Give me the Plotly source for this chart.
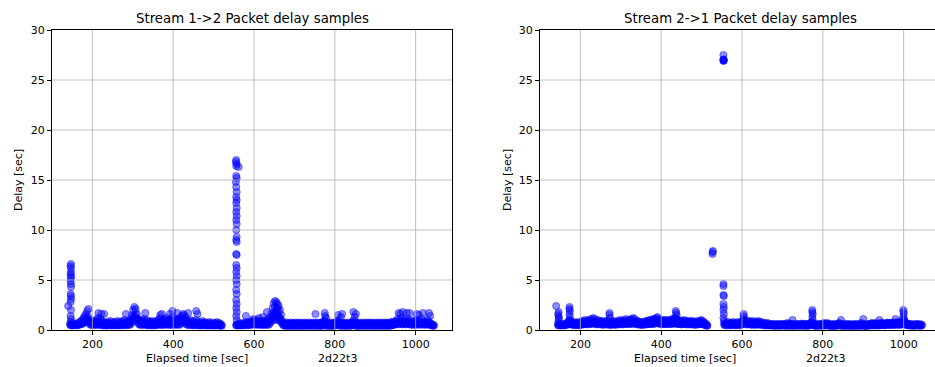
import plotly.graph_objects as go

# ---------------- data ----------------
sample_times = [
    145, 148, 151, 154, 157, 160, 163, 166, 169, 172,
    175, 178, 181, 184, 187, 190, 193, 196, 199, 202,
    205, 208, 211, 214, 217, 220, 223, 226, 229, 232,
    235, 238, 241, 244, 247, 250, 253, 256, 259, 262,
    265, 268, 271, 274, 277, 280, 283, 286, 289, 292,
    295, 298, 301, 304, 307, 310, 313, 316, 319, 322,
    325, 328, 331, 334, 337, 340, 343, 346, 349, 352,
    355, 358, 361, 364, 367, 370, 373, 376, 379, 382,
    385, 388, 391, 394, 397, 400, 403, 406, 409, 412,
    415, 418, 421, 424, 427, 430, 433, 436, 439, 442,
    445, 448, 451, 454, 457, 460, 463, 466, 469, 472,
    475, 478, 481, 484, 487, 490, 493, 496, 499, 502,
    505, 508, 511, 514, 517, 520,
    556, 559, 562, 565, 568, 571, 574, 577, 580, 583,
    586, 589, 592, 595, 598, 601, 604, 607, 610, 613,
    616, 619, 622, 625, 628, 631, 634, 637, 640, 643,
    646, 649, 652, 655, 658, 661, 664, 667, 670, 673,
    676, 679, 682, 685, 688, 691, 694, 697, 700, 703,
    706, 709, 712, 715, 718, 721, 724, 727, 730, 733,
    736, 739, 742, 745, 748, 751, 754, 757, 760, 763,
    766, 769, 772, 775, 778, 781, 784, 787, 790, 793,
    796, 799, 802, 805, 808, 811, 814, 817, 820, 823,
    826, 829, 832, 835, 838, 841, 844, 847, 850, 853,
    856, 859, 862, 865, 868, 871, 874, 877, 880, 883,
    886, 889, 892, 895, 898, 901, 904, 907, 910, 913,
    916, 919, 922, 925, 928, 931, 934, 937, 940, 943,
    946, 949, 952, 955, 958, 961, 964, 967, 970, 973,
    976, 979, 982, 985, 988, 991, 994, 997, 1000, 1003,
    1006, 1009, 1012, 1015, 1018, 1021, 1024, 1027, 1030, 1033,
    1036, 1039, 1042, 1045,
]

# upper delay sample per time slot, stream 1->2
delay_12 = [
    0.6, 0.5, 0.7, 0.5, 0.6, 0.55, 0.7, 0.6, 0.8, 0.9,
    1.0, 1.2, 1.4, 1.6, 1.9, 1.3, 0.9, 0.8, 0.7, 0.9,
    0.8, 1.0, 0.9, 1.2, 0.8, 1.1, 0.9, 0.7, 0.8, 0.7,
    0.6, 0.8, 0.7, 0.9, 0.6, 0.8, 0.7, 0.8, 0.6, 0.9,
    0.7, 0.8, 0.6, 0.9, 0.8, 1.0, 0.7, 0.8, 0.9, 0.8,
    1.0, 1.5, 2.0, 2.3, 2.1, 1.6, 1.1, 0.9, 0.8, 1.0,
    0.9, 1.1, 0.8, 1.0, 0.7, 0.9, 0.8, 0.7, 0.9, 0.8,
    0.7, 0.9, 0.8, 1.0, 1.2, 0.9, 0.8, 1.0, 1.1, 0.9,
    1.2, 1.0, 0.9, 1.1, 0.8, 1.3, 1.0, 0.9, 1.1, 1.0,
    0.9, 1.2, 1.4, 1.6, 1.5, 1.3, 1.0, 0.9, 0.8, 1.0,
    0.8, 0.9, 0.7, 0.8, 1.0, 0.7, 0.8, 0.6, 0.7, 0.9,
    0.7, 0.8, 0.6, 0.7, 0.6, 0.8, 0.7, 0.6, 0.7, 0.6,
    0.7, 0.8, 0.6, 0.7, 0.6, 0.5,
    0.5, 0.6, 0.5, 0.7, 0.6, 0.5, 0.7, 0.6, 0.8, 0.7,
    0.6, 0.8, 0.7, 0.9, 0.8, 1.0, 0.9, 0.8, 1.0, 0.8,
    0.7, 0.9, 0.8, 0.9, 0.7, 1.0, 0.8, 0.9, 1.2, 1.6,
    2.2, 2.7, 2.9, 2.8, 2.6, 2.4, 2.0, 1.5, 0.9, 0.6,
    0.65, 0.75, 0.65, 0.7, 0.65, 0.75, 0.65, 0.7, 0.65, 0.75,
    0.65, 0.7, 0.75, 0.65, 0.7, 0.65, 0.75, 0.65, 0.7, 0.65,
    0.75, 0.65, 0.7, 0.65, 0.75, 0.65, 0.7, 0.75, 0.65, 0.7,
    0.75, 0.65, 0.85, 0.95, 0.75, 0.65, 0.7, 0.65, 0.75, 0.65,
    0.7, 0.65, 0.75, 0.85, 0.95, 0.75, 0.65, 0.7, 0.75, 0.65,
    0.7, 0.65, 0.75, 0.65, 0.7, 0.75, 0.85, 0.95, 0.75, 0.65,
    0.7, 0.65, 0.75, 0.65, 0.7, 0.65, 0.75, 0.65, 0.7, 0.75,
    0.65, 0.7, 0.75, 0.65, 0.7, 0.65, 0.75, 0.7, 0.65, 0.75,
    0.65, 0.7, 0.75, 0.65, 0.7, 0.75, 0.65, 0.7, 0.75, 0.85,
    0.6, 0.8, 0.9, 1.1, 0.8, 0.9, 1.2, 0.8, 0.9, 1.0,
    0.8, 1.1, 0.9, 0.8, 1.0, 0.7, 0.8, 0.9, 0.7, 1.0,
    0.8, 0.9, 0.7, 1.1, 0.8, 0.9, 0.7, 0.8, 1.0, 0.8,
    0.7, 0.6, 0.5, 0.5,
]

# lower delay sample per time slot, stream 1->2
floor_12 = [
    0.5, 0.45, 0.5, 0.45, 0.5, 0.5, 0.45, 0.5, 0.55, 0.6,
    0.6, 0.7, 0.8, 0.9, 1.0, 0.8, 0.6, 0.5, 0.5, 0.55,
    0.5, 0.55, 0.5, 0.6, 0.5, 0.55, 0.5, 0.45, 0.5, 0.45,
    0.45, 0.5, 0.45, 0.5, 0.45, 0.5, 0.45, 0.5, 0.45, 0.5,
    0.45, 0.5, 0.45, 0.5, 0.5, 0.55, 0.45, 0.5, 0.55, 0.5,
    0.6, 0.8, 1.1, 1.3, 1.2, 0.9, 0.7, 0.55, 0.5, 0.55,
    0.5, 0.6, 0.5, 0.55, 0.45, 0.5, 0.5, 0.45, 0.5, 0.5,
    0.45, 0.5, 0.5, 0.55, 0.6, 0.5, 0.5, 0.55, 0.6, 0.5,
    0.6, 0.55, 0.5, 0.6, 0.5, 0.65, 0.55, 0.5, 0.6, 0.55,
    0.5, 0.6, 0.8, 0.9, 0.85, 0.7, 0.55, 0.5, 0.5, 0.55,
    0.5, 0.5, 0.45, 0.5, 0.55, 0.45, 0.5, 0.45, 0.45, 0.5,
    0.45, 0.5, 0.45, 0.45, 0.45, 0.5, 0.45, 0.45, 0.45, 0.45,
    0.45, 0.5, 0.45, 0.45, 0.45, 0.4,
    0.45, 0.5, 0.45, 0.5, 0.45, 0.45, 0.5, 0.45, 0.55, 0.5,
    0.45, 0.55, 0.5, 0.6, 0.55, 0.6, 0.55, 0.5, 0.6, 0.55,
    0.5, 0.55, 0.5, 0.55, 0.5, 0.6, 0.5, 0.55, 0.7, 0.9,
    1.2, 1.5, 1.7, 1.6, 1.4, 1.3, 1.1, 0.8, 0.6, 0.45,
    0.45, 0.4, 0.45, 0.45, 0.4, 0.45, 0.4, 0.45, 0.45, 0.4,
    0.4, 0.45, 0.45, 0.4, 0.45, 0.4, 0.45, 0.45, 0.4, 0.45,
    0.45, 0.4, 0.45, 0.45, 0.4, 0.45, 0.45, 0.4, 0.45, 0.4,
    0.45, 0.4, 0.5, 0.55, 0.45, 0.4, 0.45, 0.45, 0.4, 0.45,
    0.4, 0.45, 0.45, 0.5, 0.55, 0.45, 0.4, 0.45, 0.45, 0.4,
    0.45, 0.4, 0.45, 0.45, 0.4, 0.45, 0.5, 0.55, 0.45, 0.4,
    0.45, 0.4, 0.45, 0.45, 0.4, 0.45, 0.45, 0.4, 0.45, 0.45,
    0.4, 0.45, 0.45, 0.4, 0.45, 0.4, 0.45, 0.45, 0.4, 0.45,
    0.45, 0.4, 0.45, 0.45, 0.4, 0.45, 0.4, 0.45, 0.45, 0.5,
    0.5, 0.55, 0.6, 0.65, 0.55, 0.6, 0.7, 0.55, 0.6, 0.6,
    0.55, 0.65, 0.6, 0.55, 0.6, 0.5, 0.55, 0.6, 0.5, 0.6,
    0.55, 0.6, 0.5, 0.65, 0.55, 0.6, 0.5, 0.55, 0.6, 0.55,
    0.5, 0.45, 0.45, 0.4,
]

# upper delay sample per time slot, stream 2->1
delay_21 = [
    0.5, 0.6, 0.5, 0.55, 0.6, 0.5, 0.6, 0.7, 0.8, 0.9,
    0.9, 0.8, 0.7, 0.8, 0.6, 0.7, 0.8, 0.7, 0.6, 0.8,
    0.9, 0.8, 1.0, 0.9, 0.8, 1.0, 0.9, 1.1, 0.9, 1.2,
    1.1, 0.9, 0.8, 1.0, 0.9, 0.8, 0.9, 0.7, 0.8, 0.9,
    0.8, 0.9, 0.7, 0.8, 0.7, 0.8, 0.9, 0.7, 0.8, 0.9,
    0.8, 1.0, 0.9, 0.8, 1.0, 0.9, 1.1, 0.9, 1.0, 0.9,
    1.1, 1.0, 1.2, 1.1, 0.9, 0.8, 0.9, 0.8, 0.7, 0.8,
    0.7, 0.8, 0.9, 0.8, 0.9, 1.0, 0.9, 1.0, 1.1, 1.0,
    1.1, 1.2, 1.3, 1.1, 1.0, 0.9, 1.0, 0.9, 1.0, 0.9,
    1.0, 0.9, 1.0, 0.9, 1.1, 1.0, 1.2, 1.1, 1.0, 0.9,
    1.0, 0.9, 0.8, 0.9, 1.0, 0.9, 0.8, 0.9, 0.8, 0.9,
    0.8, 0.9, 0.8, 0.7, 0.8, 0.9, 0.8, 0.9, 1.0, 0.9,
    0.8, 0.7, 0.6, 0.5, None, None,
    0.6, 0.7, 0.6, 0.8, 0.7, 0.6, 0.7, 0.8, 0.7, 0.6,
    0.7, 0.8, 0.7, 0.6, 0.8, 0.9, 1.0, 0.9, 0.8, 0.9,
    0.8, 0.9, 0.8, 0.7, 0.9, 0.8, 0.7, 0.8, 0.9, 0.8,
    0.7, 0.8, 0.7, 0.6, 0.7, 0.6, 0.7, 0.6, 0.55, 0.6,
    0.55, 0.6, 0.5, 0.6, 0.55, 0.6, 0.5, 0.6, 0.55, 0.6,
    0.6, 0.55, 0.7, 0.6, 0.65, 0.6, 0.55, 0.6, 0.5, 0.6,
    0.55, 0.6, 0.5, 0.6, 0.65, 0.6, 0.55, 0.6, 0.6, 0.55,
    0.6, 0.7, 0.8, 0.7, 0.6, 0.55, 0.6, 0.5, 0.6, 0.55,
    0.6, 0.55, 0.7, 0.6, 0.65, 0.7, 0.6, 0.55, 0.6, 0.5,
    0.55, 0.6, 0.5, 0.6, 0.65, 0.7, 0.6, 0.55, 0.6, 0.5,
    0.6, 0.55, 0.6, 0.5, 0.6, 0.55, 0.5, 0.6, 0.55, 0.6,
    0.5, 0.6, 0.55, 0.7, 0.6, 0.55, 0.6, 0.5, 0.55, 0.6,
    0.6, 0.65, 0.7, 0.6, 0.65, 0.7, 0.6, 0.65, 0.6, 0.7,
    0.65, 0.7, 0.6, 0.65, 0.7, 0.75, 0.7, 0.65, 0.7, 0.75,
    0.7, 0.75, 0.7, 0.8, 0.75, 0.7, 0.8, 0.9, 1.0, 0.8,
    0.7, 0.65, 0.6, 0.55, 0.6, 0.55, 0.5, 0.6, 0.55, 0.6,
    0.55, 0.6, 0.5, 0.55,
]

# lower delay sample per time slot, stream 2->1
floor_21 = [
    0.45, 0.5, 0.45, 0.45, 0.5, 0.45, 0.5, 0.5, 0.55, 0.6,
    0.6, 0.55, 0.5, 0.55, 0.45, 0.5, 0.55, 0.5, 0.45, 0.55,
    0.6, 0.55, 0.6, 0.6, 0.55, 0.6, 0.6, 0.65, 0.6, 0.7,
    0.65, 0.6, 0.55, 0.6, 0.6, 0.55, 0.6, 0.5, 0.55, 0.6,
    0.55, 0.6, 0.5, 0.55, 0.5, 0.55, 0.6, 0.5, 0.55, 0.6,
    0.55, 0.6, 0.6, 0.55, 0.6, 0.6, 0.65, 0.6, 0.6, 0.6,
    0.65, 0.6, 0.7, 0.65, 0.6, 0.55, 0.6, 0.55, 0.5, 0.55,
    0.5, 0.55, 0.6, 0.55, 0.6, 0.6, 0.6, 0.6, 0.65, 0.6,
    0.65, 0.7, 0.75, 0.65, 0.6, 0.6, 0.6, 0.6, 0.6, 0.6,
    0.6, 0.6, 0.6, 0.6, 0.65, 0.6, 0.7, 0.65, 0.6, 0.6,
    0.6, 0.6, 0.55, 0.6, 0.6, 0.6, 0.55, 0.6, 0.55, 0.6,
    0.55, 0.6, 0.55, 0.5, 0.55, 0.6, 0.55, 0.6, 0.6, 0.6,
    0.55, 0.5, 0.45, 0.4, None, None,
    0.5, 0.5, 0.45, 0.55, 0.5, 0.45, 0.5, 0.55, 0.5, 0.45,
    0.5, 0.55, 0.5, 0.45, 0.55, 0.6, 0.65, 0.6, 0.55, 0.6,
    0.55, 0.6, 0.55, 0.5, 0.6, 0.55, 0.5, 0.55, 0.6, 0.55,
    0.5, 0.55, 0.5, 0.45, 0.5, 0.45, 0.5, 0.45, 0.45, 0.45,
    0.45, 0.45, 0.4, 0.45, 0.45, 0.45, 0.4, 0.45, 0.45, 0.45,
    0.45, 0.4, 0.45, 0.45, 0.45, 0.4, 0.45, 0.45, 0.4, 0.45,
    0.45, 0.45, 0.4, 0.45, 0.45, 0.45, 0.4, 0.45, 0.45, 0.4,
    0.45, 0.5, 0.55, 0.5, 0.45, 0.4, 0.45, 0.4, 0.45, 0.45,
    0.45, 0.4, 0.5, 0.45, 0.45, 0.5, 0.45, 0.4, 0.45, 0.4,
    0.4, 0.45, 0.4, 0.45, 0.45, 0.5, 0.45, 0.4, 0.45, 0.4,
    0.45, 0.4, 0.45, 0.4, 0.45, 0.4, 0.4, 0.45, 0.4, 0.45,
    0.4, 0.45, 0.4, 0.5, 0.45, 0.4, 0.45, 0.4, 0.4, 0.45,
    0.45, 0.45, 0.5, 0.45, 0.45, 0.5, 0.45, 0.45, 0.45, 0.5,
    0.5, 0.5, 0.45, 0.5, 0.5, 0.55, 0.5, 0.5, 0.5, 0.55,
    0.5, 0.55, 0.5, 0.55, 0.55, 0.5, 0.55, 0.6, 0.65, 0.55,
    0.5, 0.5, 0.45, 0.45, 0.45, 0.45, 0.4, 0.45, 0.45, 0.45,
    0.45, 0.45, 0.4, 0.45,
]

# extra (burst / outlier) samples, stream 1->2
extra_times_12 = [
    147, 146, 147, 147, 146, 147, 147, 146, 147, 147,
    146, 147, 147, 146, 140, 147, 146, 147, 146,
    181, 184, 187, 190, 191,
    215, 222, 229, 283, 331, 368, 372, 398, 392, 410, 437, 457, 460,
    298, 301, 304, 307, 310, 421, 424, 427,
    556, 555, 557, 556, 562, 556, 557, 555, 556, 557,
    556, 557, 556, 557, 556, 557, 556, 557, 556, 557,
    556, 557, 556, 557, 556, 557, 556, 557, 556, 557,
    556, 557, 556, 557, 556, 557, 556, 557,
    580, 598, 612, 622, 632, 637,
    646, 649, 652, 655, 658, 661, 664, 650, 656, 662, 652, 658,
    752, 775, 776, 778, 808, 818, 815, 846, 852, 849,
    958, 962, 968, 978, 985, 1003, 1008, 1018, 1033, 1036,
]
extra_delays_12 = [
    6.6, 6.4, 6.2, 5.8, 5.6, 5.4, 5.2, 4.9, 4.6, 4.3,
    3.6, 3.4, 3.1, 2.8, 2.4, 2.0, 1.4, 1.1, 0.8,
    0.9, 1.0, 1.2, 2.1, 1.0,
    1.7, 1.6, 1.6, 1.6, 1.7, 1.5, 1.6, 1.9, 1.6, 1.7, 1.7, 1.9, 1.6,
    1.1, 1.4, 1.3, 1.5, 1.1, 1.0, 1.1, 1.0,
    17.0, 16.8, 16.6, 16.4, 16.3, 15.4, 15.2, 14.8, 14.3, 13.8,
    13.3, 13.0, 12.7, 12.2, 11.8, 11.4, 11.0, 10.6, 10.0, 9.3,
    9.0, 8.8, 7.6, 7.5, 6.5, 6.2, 5.8, 5.4, 5.0, 4.6,
    4.0, 3.6, 3.0, 2.6, 2.2, 1.8, 1.4, 1.0,
    1.4, 1.1, 1.2, 1.3, 1.8, 1.2,
    1.4, 1.8, 1.6, 2.0, 1.5, 1.8, 1.2, 1.0, 1.0, 1.0, 2.3, 2.2,
    1.6, 1.7, 1.4, 1.2, 1.5, 1.6, 1.3, 1.8, 1.6, 1.3,
    1.7, 1.6, 1.8, 1.7, 1.7, 1.6, 1.5, 1.7, 1.7, 1.4,
]

# extra (burst / outlier) samples, stream 2->1
extra_times_21 = [
    140, 146, 145, 146, 147, 146, 145,
    173, 173, 174, 173, 174, 173,
    272, 272, 273,
    436, 437, 438, 436,
    527, 527, 528,
    554, 554, 554, 555, 554, 555,
    554, 554, 554, 555, 554, 555, 554, 555, 554, 555,
    604, 604, 605, 603,
    774, 774, 775, 774, 775,
    999, 1000, 1000, 999, 1001,
    900, 725, 845, 940, 980,
]
extra_delays_21 = [
    2.4, 1.8, 1.6, 1.4, 1.2, 1.0, 0.7,
    2.3, 2.1, 1.9, 1.6, 1.3, 1.0,
    1.7, 1.5, 1.2,
    1.9, 1.7, 1.5, 1.2,
    7.8, 7.6, 7.9,
    27.5, 27.0, 26.9, 27.0, 27.05, 26.95,
    4.6, 4.4, 3.5, 3.4, 2.6, 2.3, 2.0, 1.6, 1.2, 0.9,
    1.6, 1.4, 1.2, 1.0,
    2.0, 1.8, 1.6, 1.3, 1.0,
    2.0, 1.8, 1.6, 1.3, 1.1,
    1.1, 1.0, 1.0, 1.0, 1.1,
]

titles = ["Stream 1->2 Packet delay samples", "Stream 2->1 Packet delay samples"]
x_label = "Elapsed time [sec]"
run_label = "2d22t3"
y_label = "Delay [sec]"
x_ticks = [200, 400, 600, 800, 1000]
y_ticks = [0, 5, 10, 15, 20, 25, 30]

# ---------------- layout helpers ----------------
W, H = 935, 367
FONT = "DejaVu Sans"
px_per_sec = 400 / 990.0


def fx(p):
    return p / W


def fy(p):
    return (H - p) / H


marker = dict(size=7.2, color="rgba(0,0,255,0.45)",
              line=dict(width=1, color="rgba(0,0,255,0.45)"))

fig = go.Figure()
fig.add_trace(go.Scatter(
    x=sample_times + sample_times + extra_times_12,
    y=floor_12 + delay_12 + extra_delays_12,
    mode="markers", marker=marker, xaxis="x", yaxis="y",
    hoverinfo="skip", showlegend=False))
fig.add_trace(go.Scatter(
    x=sample_times + sample_times + extra_times_21,
    y=floor_21 + delay_21 + extra_delays_21,
    mode="markers", marker=marker, xaxis="x2", yaxis="y2",
    hoverinfo="skip", showlegend=False))

axis_common = dict(
    showgrid=False, zeroline=False, showline=True, linecolor="black",
    linewidth=1, ticks="outside", ticklen=4, tickwidth=1, tickcolor="black",
    automargin=False,
    tickfont=dict(family=FONT, size=11, color="black"),
)
ydom = [fy(330), fy(30)]
fig.update_layout(
    width=W, height=H,
    margin=dict(l=0, r=0, t=0, b=0, pad=0, autoexpand=False),
    paper_bgcolor="white", plot_bgcolor="white", showlegend=False,
    xaxis=dict(domain=[fx(52), fx(452)], range=[100, 1090], tickvals=x_ticks,
               mirror=True, anchor="y", **axis_common),
    yaxis=dict(domain=ydom, range=[0, 30], tickvals=y_ticks, mirror=True,
               anchor="x", **axis_common),
    xaxis2=dict(domain=[fx(540), 1.0], range=[100, 100 + 395 / px_per_sec],
                tickvals=x_ticks, mirror=True, anchor="y2", **axis_common),
    yaxis2=dict(domain=ydom, range=[0, 30], tickvals=y_ticks, mirror=False,
                anchor="x2", **axis_common),
)

# grid lines drawn above markers (as matplotlib does)
shapes = []
grid_line = dict(color="#b0b0b0", width=0.8)
for xa, ya in (("x", "y"), ("x2", "y2")):
    for v in x_ticks:
        shapes.append(dict(type="line", xref=xa, yref=ya + " domain", x0=v, x1=v,
                           y0=0, y1=1, line=grid_line, layer="above"))
    for v in y_ticks[1:-1]:
        shapes.append(dict(type="line", xref=xa + " domain", yref=ya, x0=0, x1=1,
                           y0=v, y1=v, line=grid_line, layer="above"))
fig.update_layout(shapes=shapes)

ann = []
nb = "\u00a0"
for cx, ylx, title in ((252, 18, titles[0]), (740, 507, titles[1])):
    ann.append(dict(text=title, x=fx(cx), y=fy(18.5), xref="paper", yref="paper",
                    xanchor="center", yanchor="middle", showarrow=False,
                    font=dict(family=FONT, size=13.3, color="black")))
    ann.append(dict(text=x_label + nb * 20 + run_label, x=fx(cx - 1), y=fy(358),
                    xref="paper", yref="paper", xanchor="center", yanchor="middle",
                    showarrow=False, font=dict(family=FONT, size=11, color="black")))
    ann.append(dict(text=y_label, x=fx(ylx), y=fy(180), xref="paper", yref="paper",
                    xanchor="center", yanchor="middle", textangle=-90,
                    showarrow=False, font=dict(family=FONT, size=11, color="black")))
fig.update_layout(annotations=ann)

fig.write_html("out.html")
